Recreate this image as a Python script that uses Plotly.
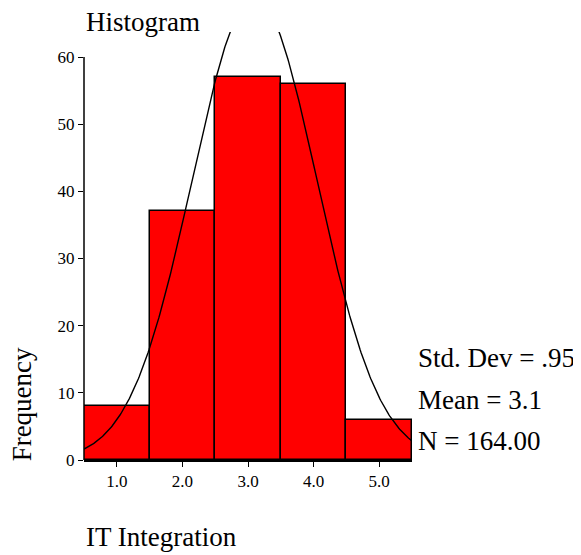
import numpy as np
import plotly.graph_objects as go

# Data
bin_centers = [1.0, 2.0, 3.0, 4.0, 5.0]
frequencies = [8, 37, 57, 56, 6]
tick_labels = ["1.0", "2.0", "3.0", "4.0", "5.0"]
y_ticks = [0, 10, 20, 30, 40, 50, 60]
std_dev = 0.95
mean = 3.1
n_total = 164
bin_width = 1.0

# Normal curve derived from the displayed statistics
xs = np.linspace(0.5, 5.5, 400)
ys = n_total * bin_width / (std_dev * np.sqrt(2 * np.pi)) * np.exp(-0.5 * ((xs - mean) / std_dev) ** 2)

FONT = "Liberation Serif"
BIG = 27

fig = go.Figure()
fig.add_trace(go.Bar(
    x=bin_centers, y=frequencies, width=1.0,
    marker=dict(color="#FF0000", line=dict(color="black", width=1.5)),
    showlegend=False, hoverinfo="x+y",
))
fig.add_trace(go.Scatter(
    x=xs, y=ys, mode="lines",
    line=dict(color="black", width=1.4),
    showlegend=False, hoverinfo="skip",
))

y_top = 60 / 0.9416

fig.update_layout(
    width=573, height=547,
    margin=dict(l=76, r=169, t=24, b=95),
    paper_bgcolor="white", plot_bgcolor="white",
    bargap=0,
    font=dict(family=FONT, color="black"),
    xaxis=dict(
        range=[0.5, 5.5], tickvals=bin_centers, ticktext=tick_labels,
        showgrid=False, zeroline=False, showline=True, linecolor="black", linewidth=1.5,
        ticks="outside", ticklen=5, tickwidth=1.2, tickcolor="black",
        tickfont=dict(family=FONT, size=17, color="black"),
    ),
    yaxis=dict(
        range=[0, y_top], tickvals=y_ticks, ticktext=[str(v) for v in y_ticks],
        showgrid=False, zeroline=False, showline=False,
        ticks="outside", ticklen=5, tickwidth=1.2, tickcolor="black",
        tickfont=dict(family=FONT, size=17, color="black"),
    ),
    shapes=[dict(type="line", xref="paper", x0=0, x1=0, yref="y", y0=0, y1=max(y_ticks),
                 line=dict(color="black", width=1.5))],
    annotations=[
        dict(text="Histogram", xref="paper", yref="paper", x=0.0, y=1.024,
             xanchor="left", yanchor="middle", showarrow=False,
             font=dict(family=FONT, size=BIG, color="black")),
        dict(text="Frequency", xref="paper", yref="paper", x=-0.189, y=0.13,
             xanchor="center", yanchor="middle", showarrow=False, textangle=-90,
             font=dict(family=FONT, size=BIG, color="black")),
        dict(text="IT Integration", xref="paper", yref="paper", x=0.0, y=-0.18,
             xanchor="left", yanchor="middle", showarrow=False,
             font=dict(family=FONT, size=BIG, color="black")),
        dict(text="Std. Dev = .95", xref="paper", yref="paper", x=1.012, y=0.238,
             xanchor="left", yanchor="middle", showarrow=False,
             font=dict(family=FONT, size=BIG, color="black")),
        dict(text="Mean = 3.1", xref="paper", yref="paper", x=1.012, y=0.140,
             xanchor="left", yanchor="middle", showarrow=False,
             font=dict(family=FONT, size=BIG, color="black")),
        dict(text="N = 164.00", xref="paper", yref="paper", x=1.012, y=0.044,
             xanchor="left", yanchor="middle", showarrow=False,
             font=dict(family=FONT, size=BIG, color="black")),
    ],
)

fig.write_html("out.html")
